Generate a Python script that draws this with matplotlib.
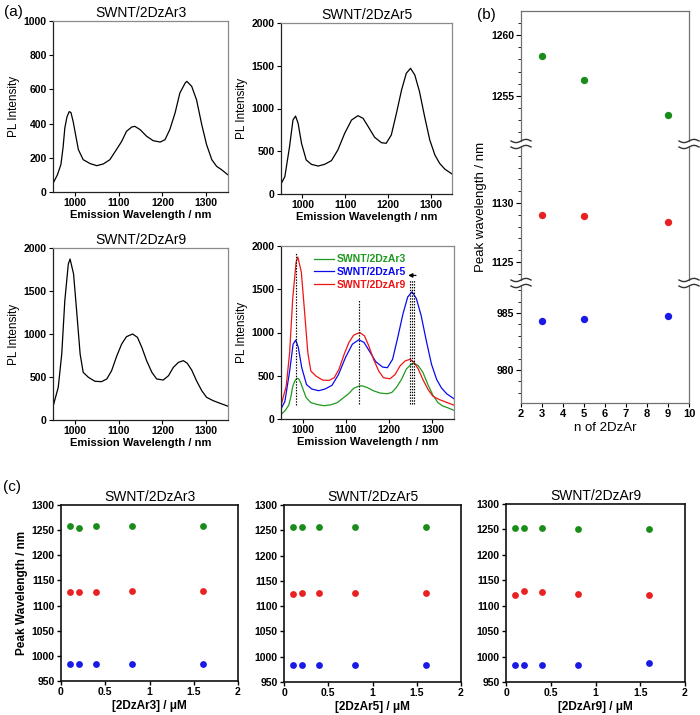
import numpy as np
import matplotlib
matplotlib.use("Agg")
import matplotlib.pyplot as plt
from matplotlib.ticker import MultipleLocator

plt.rcParams['font.family'] = ['Liberation Sans', 'DejaVu Sans']

# ---------------- data ----------------
wl_ar3 = [950, 960, 968, 973, 977, 982, 987, 991, 996, 1002, 1008, 1019, 1035, 1050, 1065, 1080,
          1095, 1107, 1118, 1130, 1137, 1149, 1164, 1179, 1195, 1206, 1217, 1229, 1240, 1252, 1256,
          1267, 1278, 1290, 1301, 1313, 1324, 1335, 1350]
pl_ar3 = [50, 100, 160, 260, 374, 440, 470, 465, 413, 330, 248, 189, 166, 154, 164, 189,
          248, 296, 355, 380, 384, 365, 326, 300, 292, 306, 365, 462, 579, 637, 647,
          618, 540, 394, 277, 189, 150, 131, 100]

wl_ar5 = [950, 959, 970, 978, 984, 990, 998, 1009, 1021, 1037, 1052, 1068, 1083, 1099, 1115, 1130,
          1142, 1154, 1169, 1185, 1196, 1208, 1220, 1232, 1243, 1253, 1263, 1274, 1286, 1298, 1310,
          1321, 1333, 1350]
pl_ar5 = [117, 203, 554, 865, 912, 827, 593, 398, 347, 327, 347, 390, 515, 710, 865, 916,
          885, 788, 663, 600, 593, 690, 944, 1216, 1411, 1470, 1392, 1197, 904, 632, 456,
          359, 292, 234]

wl_ar9 = [950, 962, 970, 977, 985, 989, 997, 1004, 1012, 1019, 1031, 1046, 1061, 1073, 1084, 1096,
          1107, 1118, 1132, 1143, 1153, 1164, 1176, 1187, 1202, 1214, 1225, 1237, 1248, 1257, 1267,
          1278, 1290, 1301, 1316, 1332, 1350]
pl_ar9 = [155, 380, 767, 1388, 1814, 1872, 1698, 1271, 767, 554, 496, 450, 446, 477, 574, 748,
          884, 969, 1000, 961, 845, 690, 554, 477, 465, 515, 612, 671, 690, 659, 581,
          457, 341, 264, 225, 194, 160]

spec_titles = ["SWNT/2DzAr3", "SWNT/2DzAr5", "SWNT/2DzAr9"]

# guide lines in the overlay panel (wavelength, ymin, ymax)
guide_wl = [984, 1130, 1248, 1253, 1258]
guide_lo = [165, 170, 175, 175, 175]
guide_hi = [1925, 1380, 1610, 1610, 1610]

# panel (b)
n_2dzar = [3, 5, 9]
peak_e11_a = [1258.3, 1256.3, 1253.4]   # green
peak_e11_b = [1129.0, 1128.9, 1128.4]   # red
peak_e11_c = [984.3, 984.5, 984.7]      # blue

# panel (c)
conc = [0.1, 0.2, 0.4, 0.8, 1.6]
c_green = [[1258, 1255, 1258, 1258, 1258],
           [1256, 1256, 1256, 1256, 1256],
           [1253, 1253, 1253, 1250, 1250]]
c_red = [[1127, 1127, 1127, 1129, 1129],
         [1124, 1126, 1126, 1126, 1126],
         [1122, 1129, 1126, 1124, 1122]]
c_blue = [[984, 984, 984, 984, 984],
          [984, 984, 984, 984, 984],
          [984, 984, 984, 984, 987]]
c_xlabels = ["[2DzAr3] / μM", "[2DzAr5] / μM", "[2DzAr9] / μM"]

GREEN = '#1a8c1a'
RED = '#e82222'
BLUE = '#1a1ae6'
SG = '#1f9a1f'
SB = '#0a0af0'
SR = '#f01414'

W, H = 700, 715
fig = plt.figure(figsize=(7, 7.15), dpi=100)


def add_ax(x0, y0, x1, y1):
    return fig.add_axes([x0 / W, 1 - y1 / H, (x1 - x0) / W, (y1 - y0) / H])


TICKFS = 7.5


def style_spec(ax, ymax, ystep):
    ax.set_xlim(950, 1350)
    ax.set_ylim(0, ymax)
    ax.set_xticks([1000, 1100, 1200, 1300])
    ax.set_yticks(np.arange(0, ymax + 1, ystep))
    ax.tick_params(direction='out', length=3, width=0.8, labelsize=TICKFS, pad=1.5)
    for lab in ax.get_xticklabels() + ax.get_yticklabels():
        lab.set_fontweight('bold')
    for s in ['top', 'right']:
        ax.spines[s].set_color('#8a8a8a')
    for s in ['left', 'bottom']:
        ax.spines[s].set_color('#222222')
    for s in ax.spines.values():
        s.set_linewidth(0.9)
    ax.set_xlabel("Emission Wavelength / nm", fontsize=8, fontweight='bold', labelpad=1)
    ax.set_ylabel("PL Intensity", fontsize=8.5, labelpad=3)


# ---------------- panel (a) ----------------
a1 = add_ax(53, 21, 228, 192)
a1.plot(wl_ar3, pl_ar3, color='black', lw=0.9)
style_spec(a1, 1000, 200)
a1.set_title(spec_titles[0], fontsize=10, pad=3)

a2 = add_ax(281, 23, 452, 194)
a2.plot(wl_ar5, pl_ar5, color='black', lw=0.9)
style_spec(a2, 2000, 500)
a2.set_title(spec_titles[1], fontsize=10, pad=3)

a3 = add_ax(53, 248, 228, 420)
a3.plot(wl_ar9, pl_ar9, color='black', lw=0.9)
style_spec(a3, 2000, 500)
a3.set_title(spec_titles[2], fontsize=10, pad=3)

a4 = add_ax(281, 246, 454, 419)
a4.plot(wl_ar3, pl_ar3, color=SG, lw=0.9, label=spec_titles[0])
a4.plot(wl_ar5, pl_ar5, color=SB, lw=0.9, label=spec_titles[1])
a4.plot(wl_ar9, pl_ar9, color=SR, lw=0.9, label=spec_titles[2])
for gx, lo, hi in zip(guide_wl, guide_lo, guide_hi):
    a4.plot([gx, gx], [lo, hi], color='black', lw=0.85, ls=(0, (1.2, 1.2)))
a4.annotate('', xy=(1244, 1660), xytext=(1262, 1660),
            arrowprops=dict(arrowstyle='-|>', color='black', lw=0.9,
                            mutation_scale=6, shrinkA=0, shrinkB=0))
style_spec(a4, 2000, 500)
leg = a4.legend(loc='upper left', bbox_to_anchor=(0.14, 1.0), frameon=False,
                handlelength=2.0, handletextpad=0.2, labelspacing=0.25,
                borderpad=0.3, prop={'size': 7.5, 'weight': 'bold'},
                labelcolor='linecolor')

# ---------------- panel (b) ----------------
bx0, bx1 = 521, 689
bt = add_ax(bx0, 11, bx1, 141)
bm = add_ax(bx0, 147, bx1, 280)
bb = add_ax(bx0, 286, bx1, 403)
seg_limits = [(1251.3, 1261.97), (1123.47, 1134.75), (977.1, 987.37)]
seg_ticks = [[1255, 1260], [1125, 1130], [980, 985]]
for ax, (lo, hi), tk in zip([bt, bm, bb], seg_limits, seg_ticks):
    ax.scatter(n_2dzar, peak_e11_a, s=28, color=GREEN, zorder=3, linewidths=0)
    ax.scatter(n_2dzar, peak_e11_b, s=28, color=RED, zorder=3, linewidths=0)
    ax.scatter(n_2dzar, peak_e11_c, s=28, color=BLUE, zorder=3, linewidths=0)
    ax.set_xlim(2, 10)
    ax.set_ylim(lo, hi)
    ax.set_yticks(tk)
    ax.yaxis.set_minor_locator(MultipleLocator(1))
    ax.tick_params(axis='y', which='major', direction='out', length=3.5, width=0.8,
                   labelsize=TICKFS, pad=1.5)
    ax.tick_params(axis='y', which='minor', direction='out', length=2, width=0.6)
    for lab in ax.get_yticklabels():
        lab.set_fontweight('bold')
    for s in ax.spines.values():
        s.set_color('#707070')
        s.set_linewidth(0.9)
    if ax is not bb:
        ax.tick_params(axis='x', bottom=False, labelbottom=False)
bt.spines['bottom'].set_visible(False)
bm.spines['top'].set_visible(False)
bm.spines['bottom'].set_visible(False)
bb.spines['top'].set_visible(False)
bb.set_xticks(range(2, 11))
bb.tick_params(axis='x', direction='out', length=3, width=0.8, labelsize=8, pad=1.5)
for lab in bb.get_xticklabels():
    lab.set_fontweight('bold')
bb.set_xlabel("n of 2DzAr", fontsize=9.5, labelpad=2)
fig.text(481 / W, 1 - 207 / H, "Peak wavelength / nm", rotation=90, fontsize=9.5,
         ha='center', va='center')

# break marks (decoration) drawn in pixel overlay
ov = fig.add_axes([0, 0, 1, 1], zorder=10)
ov.set_xlim(0, W)
ov.set_ylim(H, 0)
ov.axis('off')
ov.patch.set_alpha(0)
t = np.linspace(-10, 10, 40)
wave = 1.6 * np.sin(t / 10 * np.pi)
for yb in [144, 283]:
    for xb in [bx0, bx1]:
        for dy in (-3, 3):
            ov.plot(xb + t, yb + dy - wave, color='#333333', lw=1.0)

# ---------------- panel (c) ----------------
c_boxes = [(61, 505, 238, 681), (284, 505, 461, 682), (506, 504, 685, 682)]
for i, box in enumerate(c_boxes):
    ax = add_ax(*box)
    ax.scatter(conc, c_green[i], s=24, color=GREEN, zorder=3, linewidths=0)
    ax.scatter(conc, c_red[i], s=24, color=RED, zorder=3, linewidths=0)
    ax.scatter(conc, c_blue[i], s=24, color=BLUE, zorder=3, linewidths=0)
    ax.set_xlim(0, 2)
    ax.set_ylim(950, 1300)
    ax.set_xticks([0, 0.5, 1, 1.5, 2])
    ax.set_xticklabels(["0", "0.5", "1", "1.5", "2"])
    ax.set_yticks(np.arange(950, 1301, 50))
    ax.tick_params(direction='out', length=3, width=1.0, labelsize=TICKFS, pad=1.5)
    for lab in ax.get_xticklabels() + ax.get_yticklabels():
        lab.set_fontweight('bold')
    for s in ax.spines.values():
        s.set_color('#111111')
        s.set_linewidth(1.2)
    ax.set_title(spec_titles[i], fontsize=10, pad=3)
    ax.set_xlabel(c_xlabels[i], fontsize=8.5, fontweight='bold', labelpad=2)
    if i == 0:
        ax.set_ylabel("Peak Wavelength / nm", fontsize=8.5, fontweight='bold', labelpad=3)

# panel labels
fig.text(4 / W, 1 - 12 / H, "(a)", fontsize=11, va='center')
fig.text(477 / W, 1 - 15 / H, "(b)", fontsize=11, va='center')
fig.text(3 / W, 1 - 487 / H, "(c)", fontsize=11, va='center')

fig.savefig("out.png", dpi=100)
